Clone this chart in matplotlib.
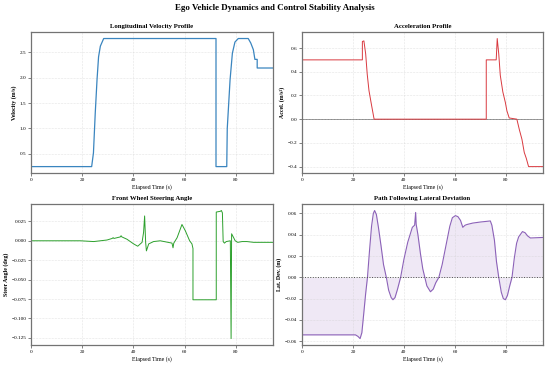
import matplotlib
matplotlib.use("Agg")
import matplotlib.pyplot as plt

plt.rcParams["font.family"] = ["Liberation Serif", "DejaVu Serif"]

# ---------------------------------------------------------------
# Data
# ---------------------------------------------------------------

vel_t = [0, 23.7, 24.4, 25.1, 25.8, 26.4, 27.1, 28.4, 72.3, 72.3, 76.5,
         76.7, 77.8, 78.7, 79.7, 81.0, 84.9, 85.9, 86.9, 87.5, 88.4, 88.4, 94.5]
vel_v = [0.25, 0.25, 0.52, 1.30, 1.96, 2.41, 2.62, 2.77, 2.77, 0.25, 0.25,
         1.00, 1.96, 2.48, 2.70, 2.77, 2.77, 2.68, 2.55, 2.36, 2.36, 2.19, 2.19]

acc_t = [0, 23.7, 23.7, 24.3, 25.0, 25.6, 26.3, 27.2, 28.3, 72.3, 72.3,
         76.2, 76.6, 77.2, 77.8, 78.8, 79.8, 80.4, 81.3, 84.3, 85.3, 86.3,
         87.2, 88.0, 88.9, 94.5]
acc_v = [0.5, 0.5, 0.655, 0.66, 0.55, 0.38, 0.24, 0.13, 0.0, 0.0, 0.5,
         0.5, 0.68, 0.55, 0.37, 0.23, 0.14, 0.07, 0.01, 0.0, -0.09, -0.17,
         -0.28, -0.33, -0.40, -0.40]

steer_t = [0, 19.3, 24.5, 29.7, 31.7, 32.1, 32.4, 34.9, 35.2, 35.5, 37.5,
           40.1, 41.7, 43.4, 44.0, 44.4, 44.8, 45.1, 46.0, 47.9, 50.5, 55.1,
           55.5, 55.8, 57.1, 59.0, 60.3, 62.0, 62.9, 63.3, 63.3, 72.4, 72.4,
           74.0, 74.4, 74.8, 75.1, 75.6, 76.3, 77.9, 78.2, 78.4, 79.2, 79.8,
           80.8, 82.5, 84.4, 87.0, 94.5]
steer_v = [0.0, 0.0, -0.001, 0.001, 0.003, 0.004, 0.003, 0.005, 0.0065, 0.005,
           0.002, -0.004, -0.007, -0.002, 0.011, 0.032, -0.002, -0.013, -0.004,
           -0.001, 0.0, -0.003, -0.009, -0.003, 0.004, 0.021, 0.013, 0.0,
           -0.004, -0.010, -0.076, -0.076, 0.037, 0.038, 0.039, 0.036, -0.001,
           -0.003, -0.001, 0.0, -0.126, 0.009, 0.004, 0.0, -0.002, -0.001,
           -0.001, -0.002, -0.002]

lat_t = [0, 21.0, 22.0, 22.8, 23.5, 24.2, 25.0, 25.7, 26.5, 27.3, 28.0, 28.5,
         29.2, 30.0, 31.0, 32.0, 33.1, 34.0, 35.0, 35.7, 36.5, 37.5, 38.7,
         40.0, 41.5, 43.3, 44.2, 44.6, 44.8, 45.5, 46.5, 47.4, 48.2, 49.0,
         50.4, 51.5, 52.5, 53.7, 55.0, 56.5, 58.0, 59.0, 60.2, 61.2, 62.2,
         63.1, 64.0, 64.8, 67.0, 70.0, 72.0, 73.9, 74.5, 75.5, 76.3, 77.2,
         78.2, 79.0, 79.8, 80.6, 81.5, 82.4, 83.3, 84.2, 85.0, 86.5, 87.5,
         88.5, 89.6, 94.5]
lat_v = [-0.054, -0.054, -0.0555, -0.0575, -0.052, -0.035, -0.015, 0.0, 0.025,
         0.048, 0.060, 0.0628, 0.059, 0.047, 0.030, 0.012, 0.0, -0.012, -0.019,
         -0.021, -0.019, -0.011, 0.0, 0.017, 0.033, 0.047, 0.049, 0.061, 0.050,
         0.040, 0.022, 0.008, 0.0, -0.008, -0.0135, -0.011, -0.005, 0.0, 0.012,
         0.030, 0.048, 0.056, 0.058, 0.057, 0.0535, 0.047, 0.049, 0.0497, 0.051,
         0.052, 0.0525, 0.053, 0.049, 0.035, 0.015, 0.0, -0.014, -0.020, -0.021,
         -0.017, -0.008, 0.0, 0.018, 0.032, 0.038, 0.043, 0.042, 0.039, 0.037,
         0.0375]

# ---------------------------------------------------------------
# Figure
# ---------------------------------------------------------------

fig = plt.figure(figsize=(5.5, 3.65), dpi=100)

ax_vel = fig.add_axes([0.0564, 0.526, 0.4396, 0.386])
ax_acc = fig.add_axes([0.549, 0.526, 0.438, 0.386])
ax_str = fig.add_axes([0.0564, 0.0548, 0.4396, 0.386])
ax_lat = fig.add_axes([0.549, 0.0548, 0.438, 0.386])

fig.suptitle("Ego Vehicle Dynamics and Control Stability Analysis",
             fontsize=6.4, fontweight="bold", y=0.977, va="center")


def style(ax, title, ylabel):
    ax.set_title(title, fontsize=4.85, fontweight="bold", pad=3)
    ax.set_ylabel(ylabel, fontsize=4.2, fontweight="bold", labelpad=2)
    ax.set_xlabel("Elapsed Time (s)", fontsize=4.2, labelpad=2)
    ax.tick_params(labelsize=3.8, length=2, width=0.5, pad=1.5, color="0.3")
    ax.grid(True, linestyle=":", linewidth=0.4, color="0.8")
    for sp in ax.spines.values():
        sp.set_color("0.45")
        sp.set_linewidth(0.9)
    ax.set_xlim(0, 94.5)
    ax.set_xticks([0, 20, 40, 60, 80])


ax_vel.plot(vel_t, vel_v, color="#3a85bf", linewidth=0.9)
style(ax_vel, "Longitudinal Velocity Profile", "Velocity (m/s)")

ax_acc.plot(acc_t, acc_v, color="#d9393f", linewidth=0.7)
ax_acc.axhline(0, color="0.45", linewidth=0.6, zorder=0)
style(ax_acc, "Acceleration Profile", "Accel. (m/s²)")

ax_str.plot(steer_t, steer_v, color="#2ca02c", linewidth=0.7)
style(ax_str, "Front Wheel Steering Angle", "Steer Angle (deg)")
ax_str.set_yticks([0.025, 0.0, -0.025, -0.05, -0.075, -0.1, -0.125])

ax_lat.plot(lat_t, lat_v, color="#8c62b8", linewidth=0.8)
ax_lat.fill_between(lat_t, lat_v, 0, color="#9467bd", alpha=0.15, linewidth=0)
ax_lat.axhline(0, color="0.3", linewidth=0.7, linestyle=":")
style(ax_lat, "Path Following Lateral Deviation", "Lat. Dev. (m)")

fig.savefig("out.png", dpi=100)
